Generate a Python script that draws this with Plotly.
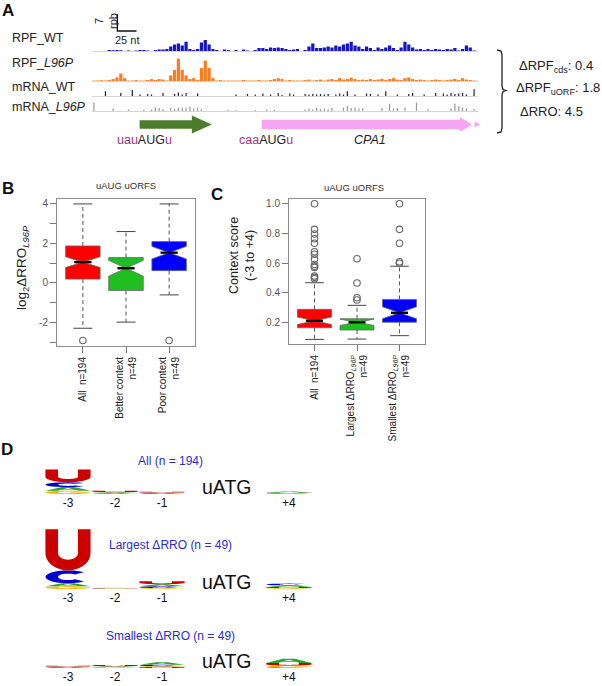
import math
import plotly.graph_objects as go

W, H = 602, 686
FONT = "Arial, Liberation Sans, DejaVu Sans, sans-serif"

# ======================= DATA =======================
# ---- Panel A: footprint / mRNA tracks (rpb per 5-nt bin) ----
bin_nt = 5
rpf_wt = [0, 0, 0, 0, 0.4, 0.3, 0.4, 0.3, 0, 0.2,
          0, 0.2, 0.4, 0.4, 0.2, 0, 0.4, 0.6, 0.6, 0.8,
          1.9, 2.7, 3.1, 2.3, 3.9, 0.8, 0.4, 0.8, 3.5, 4.6,
          2.7, 0.8, 0.4, 0, 0.6, 0.4, 0, 0.4, 0, 0.6,
          0.2, 0, 0.4, 1.2, 1.2, 0.8, 1.5, 1.2, 1.5, 1.2,
          0.8, 0.4, 0.6, 0.8, 0, 0.4, 1.9, 3.1, 1.2, 1.2,
          1.5, 1.9, 1.5, 2.3, 1.9, 2.7, 3.1, 3.9, 2.3, 1.9,
          0.8, 1.9, 1.2, 0.4, 1.5, 0.8, 1.5, 2.3, 1.2, 0.4,
          1.5, 3.9, 2.7, 1.5, 0.6, 0.8, 0.4, 0.8, 0.4, 0.8,
          0.6, 0.4, 0.8, 0.6, 1.2, 0.2, 0.8, 2.3, 1.5, 0.2]
rpf_l96p = [0.2, 0.2, 0.3, 0.2, 0.4, 0.8, 1.5, 3.1, 1.2, 0.2,
            0.2, 0.4, 0.2, 0.2, 0.4, 0.8, 0.4, 0.8, 0.6, 0.2,
            2.3, 4.6, 9.3, 4.6, 2.3, 0.8, 1.2, 0.4, 5.4, 8.5,
            5.4, 1.2, 0.2, 0.4, 0.2, 0.2, 0.2, 0.2, 0.2, 0.4,
            0.2, 0.2, 0.2, 0.4, 0.2, 0.2, 0.4, 0.8, 1.2, 0.8,
            0.2, 0.4, 0.2, 0.2, 0.2, 0.4, 0.6, 0.2, 0.4, 0.6,
            0.2, 0.6, 0.8, 0.4, 1.2, 0.6, 0.9, 1.4, 0.8, 0.4,
            0.6, 0.4, 0.8, 0.4, 0.6, 0.9, 0.4, 0.8, 1.2, 0.6,
            0.4, 1.2, 1.5, 0.8, 0.4, 0.6, 0.4, 0.2, 0.4, 0.6,
            0.4, 0.2, 0.4, 0.6, 0.9, 0.4, 1.2, 0.6, 0.4, 0.2]
mrna_wt = [0, 0, 0, 2.0, 0, 0, 0, 1.2, 0, 0,
           2.5, 0, 0.6, 0, 0.8, 0.6, 0, 0, 1.2, 0,
           0, 0.8, 1.5, 0.6, 1.2, 0, 0, 1.0, 0, 0,
           0, 0, 0, 0, 0, 0, 0, 0.6, 0, 0,
           0.8, 0, 0.6, 0, 1.0, 0, 0.6, 0, 1.2, 0.4,
           0, 1.0, 0.6, 0, 0, 0.8, 0.6, 0.8, 0.6, 0.8,
           0.6, 0.8, 0, 0.6, 1.0, 0.6, 2.0, 0, 0.6, 0,
           0, 1.0, 0.8, 0, 0.6, 0, 2.0, 0, 0, 0.6,
           0, 0, 0.8, 1.2, 0, 0, 0.6, 0, 0, 1.2,
           0, 1.0, 0.6, 1.2, 0.8, 1.0, 1.2, 0.6, 0, 2.8]
mrna_l96p = [3.5, 0, 0, 0, 0, 1.0, 0, 0, 0, 0.6,
             0, 0, 0, 0.6, 0, 0.6, 1.5, 1.2, 0.8, 0,
             1.2, 0.8, 1.5, 1.5, 1.2, 1.8, 1.0, 1.5, 0.6, 0,
             0, 0, 0, 0, 0, 0.4, 0, 0.4, 0, 0,
             0, 0, 0.4, 0, 0, 0.6, 0, 0.4, 0, 0,
             0, 0, 0, 0, 0, 0.6, 1.0, 0.6, 1.2, 0.8,
             1.0, 0.6, 1.2, 0, 0, 1.5, 2.0, 1.2, 1.5, 1.0,
             1.2, 0, 0, 0, 0, 1.2, 0, 3.0, 1.0, 1.2,
             0, 1.5, 0, 0, 3.5, 0, 0, 0.6, 0, 0,
             0, 0, 0, 1.0, 3.0, 2.0, 1.5, 1.0, 0, 0.8]
track_names = ["RPF_WT", "RPF_<i>L96P</i>", "mRNA_WT", "mRNA_<i>L96P</i>"]
uorf_start, uorf_end = 62, 156
cds_start, cds_end = 221, 495
scale_start_nt, scale_nt, scale_rpb = 33, 25, 7
delta_names = ["ΔRPF<sub>cds</sub>", "ΔRPF<sub>uORF</sub>", "ΔRRO"]
delta_values = [0.4, 1.8, 4.5]

# ---- Panel B ----
b_labels = ["All  n=194", "Better context<br>n=49", "Poor context<br>n=49"]
b_q1 = [0.19, -0.39, 0.62]
b_med = [1.05, 0.74, 1.53]
b_q3 = [1.87, 1.28, 2.09]
b_low = [-2.3, -1.99, -0.61]
b_high = [4.0, 2.6, 4.0]
b_notch = [0.27, 0.40, 0.32]
b_out_group = [1, 3]
b_out_val = [-2.92, -2.92]

# ---- Panel C ----
c_labels = ["All  n=194", "Largest ΔRRO<sub><i>L96P</i></sub><br>n=49",
            "Smallest ΔRRO<sub><i>L96P</i></sub><br>n=49"]
c_q1 = [0.166, 0.151, 0.203]
c_med = [0.213, 0.203, 0.267]
c_q3 = [0.290, 0.227, 0.357]
c_low = [0.088, 0.090, 0.113]
c_high = [0.469, 0.317, 0.580]
c_notch = [0.025, 0.021, 0.040]
c_out_all = [1.0, 0.828, 0.797, 0.765, 0.734, 0.677, 0.66, 0.628, 0.592, 0.58, 0.572, 0.514, 0.505, 0.496]
c_out_largest = [0.63, 0.467, 0.368, 0.353]
c_out_smallest = [1.0, 0.828, 0.734, 0.61, 0.60]

box_colors = ["#ff0000", "#1fbf1f", "#0000ff"]

# ---- Panel D: sequence logos (bits) ----
logo_positions = ["-3", "-2", "-1", "+4"]
logo_titles = ["All (n = 194)", "Largest ΔRRO (n = 49)", "Smallest ΔRRO (n = 49)"]
all_U = [0.43, 0.05, 0.03, 0.02]
all_C = [0.16, 0.015, 0.015, 0.01]
all_A = [0.12, 0.03, 0.02, 0.04]
all_G = [0.11, 0.015, 0.01, 0.015]
largest_U = [1.37, 0.010, 0.10, 0.04]
largest_C = [0.43, 0.008, 0.06, 0.06]
largest_A = [0.10, 0.010, 0.07, 0.05]
largest_G = [0.09, 0.012, 0.03, 0.03]
smallest_U = [0.03, 0.04, 0.03, 0.09]
smallest_C = [0.015, 0.01, 0.05, 0.02]
smallest_A = [0.02, 0.03, 0.08, 0.14]
smallest_G = [0.01, 0.02, 0.03, 0.06]

# ======================= LAYOUT HELPERS =======================
def xdom(a, b):
    return [a / W, b / W]

def ydom(top, bottom):
    return [1 - bottom / H, 1 - top / H]

def PX(x):
    return x / W

def PY(y):
    return 1 - y / H

def ax(n):
    return ("x" if n == 1 else f"x{n}"), ("y" if n == 1 else f"y{n}")

layout = dict(width=W, height=H, margin=dict(l=0, r=0, t=0, b=0),
              paper_bgcolor="white", plot_bgcolor="rgba(0,0,0,0)",
              showlegend=False, font=dict(family=FONT, color="#222"))

def set_axes(n, xa, ya):
    xn = "xaxis" if n == 1 else f"xaxis{n}"
    yn = "yaxis" if n == 1 else f"yaxis{n}"
    xr, yr = ax(n)
    base = dict(showgrid=False, zeroline=False, fixedrange=True)
    layout[xn] = dict(base, anchor=yr, **xa)
    layout[yn] = dict(base, anchor=xr, **ya)

fig = go.Figure()
shapes = []
ann = []

def text(x, y, s, size=12, color="#222", xanchor="center", yanchor="middle", angle=0,
         xref="paper", yref="paper", **kw):
    ann.append(dict(x=x, y=y, text=s, showarrow=False, xref=xref, yref=yref,
                    xanchor=xanchor, yanchor=yanchor, textangle=angle,
                    font=dict(family=FONT, size=size, color=color), **kw))

# ======================= PANEL A =======================
TX0, TX1 = 92, 478
NT_PX = 0.768     # pixels per nucleotide
RPB_PX = 2.4      # pixels per rpb
track_specs = [(rpf_wt, "#1414c8", 4.2, 51, 6.0),
               (rpf_l96p, "#ff7b1c", 4.2, 81, 10.0),
               (mrna_wt, "#1c1c5c", 1.6, 96, 4.0),
               (mrna_l96p, "#9a9a9a", 1.6, 111, 4.8)]
label_y = [38, 63, 87, 107]
centers = [bin_nt * i + bin_nt / 2 for i in range(len(rpf_wt))]
for k, (vals, col, bw, base, ymax) in enumerate(track_specs):
    n = k + 1
    xr, yr = ax(n)
    set_axes(n,
             dict(domain=xdom(TX0, TX1), range=[0, (TX1 - TX0) / NT_PX], showline=True,
                  linecolor="#d6d6d6", linewidth=1, showticklabels=False, ticks="",
                  layer="below traces"),
             dict(domain=ydom(base - ymax * RPB_PX, base), range=[0, ymax], visible=False))
    fig.add_trace(go.Bar(x=centers, y=vals, width=bw, marker=dict(color=col, line=dict(width=0)),
                         xaxis=xr, yaxis=yr, hoverinfo="skip"))
    text(PX(10), PY(label_y[k]), track_names[k], size=12.5, xanchor="left")

# scale bar axis
n = 5
xr, yr = ax(n)
set_axes(n, dict(domain=xdom(TX0, TX1), range=[0, (TX1 - TX0) / NT_PX], visible=False),
         dict(domain=ydom(31 - 7.6 * RPB_PX, 31 + 0.6 * RPB_PX), range=[-0.6, 7.6], visible=False))
fig.add_trace(go.Scatter(x=[scale_start_nt, scale_start_nt, scale_start_nt + scale_nt],
                         y=[scale_rpb, 0, 0], mode="lines", line=dict(color="#111", width=1.3),
                         xaxis=xr, yaxis=yr, hoverinfo="skip"))
text(PX(106), PY(21), f"{scale_rpb}<br>rpb", size=11, angle=-90)
text(PX(127), PY(40), f"{scale_nt} nt", size=11)

# gene model axis
n = 6
xr, yr = ax(n)
GX1 = 492
set_axes(n, dict(domain=xdom(TX0, GX1), range=[0, (GX1 - TX0) / NT_PX], visible=False),
         dict(domain=ydom(110, 148), range=[-23.5, 14.5], visible=False))

def arrow_path(s, e, half, head_half, head_len):
    b = e - head_len
    pts = [(s, -half), (b, -half), (b, -head_half), (e, 0), (b, head_half), (b, half), (s, half)]
    return "M " + " L ".join(f"{x:.2f},{y:.2f}" for x, y in pts) + " Z"

shapes.append(dict(type="path", xref=xr, yref=yr, path=arrow_path(uorf_start, uorf_end, 4.3, 9.0, 26),
                   fillcolor="#4b7d2c", line=dict(width=0)))
shapes.append(dict(type="path", xref=xr, yref=yr, path=arrow_path(cds_start, cds_end, 4.8, 7.5, 16),
                   fillcolor="#f5a6f2", line=dict(width=0)))
tri = [(cds_end + 3, -3.0), (cds_end + 11, 0), (cds_end + 3, 3.0)]
shapes.append(dict(type="path", xref=xr, yref=yr,
                   path="M " + " L ".join(f"{x},{y}" for x, y in tri) + " Z",
                   fillcolor="#f5a6f2", line=dict(width=0)))
MAG = "#a3337f"
text(uorf_start + 6, -15.5, f"<span style='color:{MAG}'>uau</span>AUG<span style='color:{MAG}'>u</span>",
     size=12.5, xref=xr, yref=yr)
text(cds_start + 6, -15.5, f"<span style='color:{MAG}'>caa</span>AUG<span style='color:{MAG}'>u</span>",
     size=12.5, xref=xr, yref=yr)
text((cds_start + cds_end) / 2 + 4, -15.5, "<i>CPA1</i>", size=12.5, xref=xr, yref=yr)

# bracket
bp = [(497, 50), (501, 51), (502, 55), (502, 86), (503, 89.5), (506, 90.5), (503, 91.5), (502, 95),
      (502, 128), (501, 132), (497, 133)]
shapes.append(dict(type="path", xref="paper", yref="paper",
                   path="M " + " L ".join(f"{PX(x):.5f},{PY(y):.5f}" for x, y in bp),
                   line=dict(color="#222", width=1.3)))
for i, (nm, v) in enumerate(zip(delta_names, delta_values)):
    text(PX([517, 514, 518][i]), PY([67, 89, 112][i]), f"{nm}: {v}", size=13, xanchor="left")

# ======================= PANELS B & C =======================
BOXW = 0.8
CAP = 0.22

def boxplot(n, q1, med, q3, low, high, notch, outx, outy):
    xr, yr = ax(n)
    for i in range(3):
        p = i + 1
        fig.add_trace(go.Scatter(x=[p, p, None, p, p], y=[q3[i], high[i], None, q1[i], low[i]],
                                 mode="lines", line=dict(color="#555", width=1, dash="4px,3px"),
                                 xaxis=xr, yaxis=yr, hoverinfo="skip"))
        fig.add_trace(go.Scatter(x=[p - CAP, p + CAP, None, p - CAP, p + CAP],
                                 y=[high[i], high[i], None, low[i], low[i]],
                                 mode="lines", line=dict(color="#444", width=1),
                                 xaxis=xr, yaxis=yr, hoverinfo="skip"))
        fig.add_trace(go.Box(x=[p], q1=[q1[i]], median=[med[i]], q3=[q3[i]],
                             lowerfence=[q1[i]], upperfence=[q3[i]], orientation="v",
                             notched=True, notchspan=[notch[i]], notchwidth=0.5, width=BOXW,
                             whiskerwidth=0, fillcolor=box_colors[i],
                             line=dict(color="#666", width=0.8), boxpoints=False,
                             xaxis=xr, yaxis=yr, hoverinfo="skip"))
        fig.add_trace(go.Scatter(x=[p - BOXW / 4, p + BOXW / 4], y=[med[i], med[i]], mode="lines",
                                 line=dict(color="black", width=2.3), xaxis=xr, yaxis=yr,
                                 hoverinfo="skip"))
    fig.add_trace(go.Scatter(x=outx, y=outy, mode="markers",
                             marker=dict(symbol="circle-open", size=6.5, color="#666",
                                         line=dict(width=1.1, color="#666")),
                             xaxis=xr, yaxis=yr, hoverinfo="skip"))

axis_common = dict(showline=True, mirror=True, linecolor="#8c8c8c", linewidth=1,
                   ticks="outside", ticklen=6, tickcolor="#777", tickwidth=1)

# B
set_axes(7, dict(axis_common, domain=xdom(57, 195), range=[0.4, 3.6], tickvals=[1, 2, 3],
                 ticktext=b_labels, tickangle=-90, tickfont=dict(size=10, color="#222")),
         dict(axis_common, domain=ydom(199, 346), range=[-3.2, 4.25], tickvals=list(range(-3, 5)),
              ticktext=["" if v % 2 else str(v) for v in range(-3, 5)],
              tickfont=dict(size=10, color="#555")))
boxplot(7, b_q1, b_med, b_q3, b_low, b_high, b_notch, b_out_group, b_out_val)
text(PX(126), PY(185), "uAUG uORFS", size=9.5, color="#333")
text(PX(22), PY(268), "log<sub>2</sub>ΔRRO<sub><i>L96P</i></sub>", size=13.5, angle=-90)

# C
set_axes(8, dict(axis_common, domain=xdom(289, 425), range=[0.4, 3.6], tickvals=[1, 2, 3],
                 ticktext=c_labels, tickangle=-90, tickfont=dict(size=10, color="#222")),
         dict(axis_common, domain=ydom(199, 344), range=[0.057, 1.032],
              tickvals=[0.2, 0.4, 0.6, 0.8, 1.0], ticktext=["0.2", "0.4", "0.6", "0.8", "1.0"],
              tickfont=dict(size=10, color="#555")))
c_out_x = [1] * len(c_out_all) + [2] * len(c_out_largest) + [3] * len(c_out_smallest)
c_out_y = c_out_all + c_out_largest + c_out_smallest
boxplot(8, c_q1, c_med, c_q3, c_low, c_high, c_notch, c_out_x, c_out_y)
text(PX(354), PY(187), "uAUG uORFS", size=9.5, color="#333")
text(PX(242), PY(256), "Context score<br>(-3 to +4)", size=12.5, angle=-90)

# ======================= PANEL D: logos =======================
def arc(cx, cy, rx, ry, a0, a1, n=18):
    return [(cx + rx * math.cos(math.radians(a0 + (a1 - a0) * t / n)),
             cy + ry * math.sin(math.radians(a0 + (a1 - a0) * t / n))) for t in range(n + 1)]

def glyph(letter):
    if letter == "U":
        return [[(0, 1)] + arc(0.5, 0.42, 0.5, 0.42, 180, 360) + [(1, 1), (0.72, 1)]
                + arc(0.5, 0.42, 0.22, 0.16, 360, 180) + [(0.28, 1)]]
    if letter == "C":
        return [arc(0.5, 0.5, 0.5, 0.5, 45, 315) + arc(0.5, 0.5, 0.22, 0.25, 315, 45)]
    if letter == "A":
        return [[(0, 0), (0.37, 1), (0.63, 1), (1, 0), (0.74, 0), (0.655, 0.26), (0.345, 0.26), (0.26, 0)],
                [(0.39, 0.43), (0.61, 0.43), (0.5, 0.76)]]
    # G
    return [arc(0.5, 0.5, 0.5, 0.5, 45, 360) + [(1, 0.56), (0.54, 0.56), (0.54, 0.40)]
            + arc(0.5, 0.5, 0.22, 0.25, 335, 45)]

letter_colors = {"U": "#cc0000", "C": "#0000cc", "A": "#22a822", "G": "#ffb000"}
LOGO_SLOTS = [0, 1, 2, 4.7]
COL_PX, COL0 = 47, 68
BIT_PX = 30
LW = 0.96
logo_sets = [
    ({"U": all_U, "C": all_C, "A": all_A, "G": all_G}, 494, 1.0, 461),
    ({"U": largest_U, "C": largest_C, "A": largest_A, "G": largest_G}, 589, 2.2, 545),
    ({"U": smallest_U, "C": smallest_C, "A": smallest_A, "G": smallest_G}, 668, 0.5, 636),
]
for g, (heights, base, ymax, ty) in enumerate(logo_sets):
    n = 9 + g
    xr, yr = ax(n)
    set_axes(n,
             dict(domain=xdom(40, 330), range=[(40 - COL0) / COL_PX, (330 - COL0) / COL_PX],
                  tickvals=LOGO_SLOTS, ticktext=logo_positions, ticks="", showline=False,
                  tickfont=dict(size=12, color="#111")),
             dict(domain=ydom(base - ymax * BIT_PX, base), range=[0, ymax], visible=False))
    for j, slot in enumerate(LOGO_SLOTS):
        order = sorted(heights.keys(), key=lambda L: heights[L][j])
        y0 = 0.0
        for L in order:
            h = heights[L][j]
            x0, x1 = slot - LW / 2, slot + LW / 2
            parts = []
            for sub in glyph(L):
                pts = [(x0 + u * (x1 - x0), y0 + v * h) for u, v in sub]
                parts.append("M " + " L ".join(f"{a:.4f},{b:.5f}" for a, b in pts) + " Z")
            shapes.append(dict(type="path", xref=xr, yref=yr, path=" ".join(parts),
                               fillcolor=letter_colors[L], line=dict(width=0)))
            y0 += h
    text((226 - COL0) / COL_PX, 0, "uATG", size=19.5, color="#111", xref=xr, yref=yr,
         yshift=7)
    text(PX(171), PY(ty), logo_titles[g], size=12, color="#2b2bd1")
    fig.add_trace(go.Scatter(x=[LOGO_SLOTS[0]], y=[0], mode="markers", marker=dict(opacity=0),
                             xaxis=xr, yaxis=yr, hoverinfo="skip"))

# panel letters
for s, x, y in [("A", 8, 11), ("B", 8, 189), ("C", 217, 194), ("D", 7, 449)]:
    text(PX(x), PY(y), f"<b>{s}</b>", size=17, color="#111")

layout["shapes"] = shapes
layout["annotations"] = ann
fig.update_layout(**layout)
fig.write_html("out.html", config={"displayModeBar": False, "staticPlot": True},
               post_script="document.body.style.margin='0';document.body.style.padding='0';")
